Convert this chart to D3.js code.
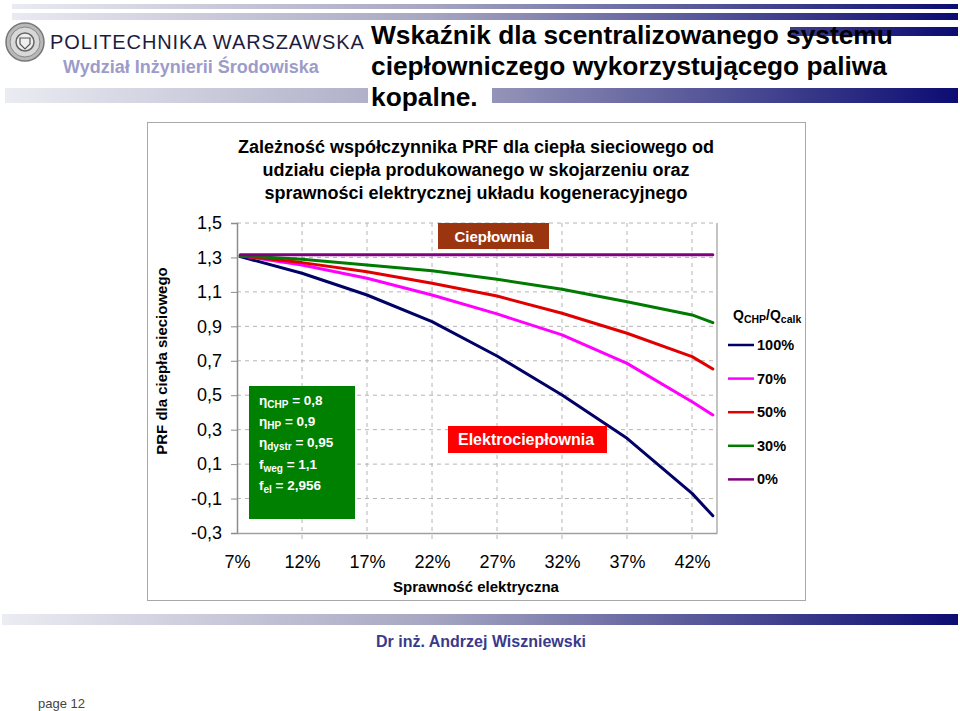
<!DOCTYPE html>
<html>
<head>
<meta charset="utf-8">
<script src="https://cdn.jsdelivr.net/npm/d3@7"></script>
<style>
  html, body { margin: 0; padding: 0; background: #fff; }
  svg { display: block; font-family: "Liberation Sans", Arial, Helvetica, sans-serif; }
</style>
</head>
<body>
<svg id="chart" width="960" height="711"></svg>
<script>
// ---------------- DATA ----------------
const xPct = [7.25, 12, 17, 22, 27, 32, 37, 42, 43.6];
const s100 = [1.305, 1.208, 1.082, 0.927, 0.728, 0.501, 0.250, -0.070, -0.200];
const s70  = [1.31, 1.256, 1.179, 1.082, 0.972, 0.850, 0.685, 0.462, 0.385];
const s50  = [1.31, 1.270, 1.217, 1.150, 1.076, 0.976, 0.860, 0.724, 0.652];
const s30  = [1.31, 1.289, 1.256, 1.223, 1.173, 1.115, 1.043, 0.966, 0.921];
const s0   = [1.315, 1.315, 1.315, 1.315, 1.315, 1.315, 1.315, 1.315, 1.315];
const seriesNames = ["100%", "70%", "50%", "30%", "0%"];
const seriesColors = ["#000066", "#ff00ff", "#e00000", "#007a00", "#800080"];
const xTicks = [7, 12, 17, 22, 27, 32, 37, 42];
const yTicks = [1.5, 1.3, 1.1, 0.9, 0.7, 0.5, 0.3, 0.1, -0.1, -0.3];
const titleLines = [
  "Zależność współczynnika PRF dla ciepła sieciowego od",
  "udziału ciepła produkowanego w skojarzeniu oraz",
  "sprawności elektrycznej układu kogeneracyjnego"
];
const slideTitle = [
  "Wskaźnik dla scentralizowanego systemu",
  "ciepłowniczego wykorzystującego paliwa",
  "kopalne."
];
const params = [
  ["η", "CHP", " = 0,8"],
  ["η", "HP", " = 0,9"],
  ["η", "dystr", " = 0,95"],
  ["f", "weg", " = 1,1"],
  ["f", "el", " = 2,956"]
];
const allSeries = [s100, s70, s50, s30, s0];

// ---------------- DRAW ----------------
const svg = d3.select("#chart");
const defs = svg.append("defs");
const grad = defs.append("linearGradient").attr("id", "hdr")
  .attr("gradientUnits", "userSpaceOnUse")
  .attr("x1", 0).attr("x2", 960).attr("y1", 0).attr("y2", 0);
grad.append("stop").attr("offset", "0%").attr("stop-color", "#ececf3");
grad.append("stop").attr("offset", "45%").attr("stop-color", "#a6a6c2");
grad.append("stop").attr("offset", "100%").attr("stop-color", "#0b0b72");

// header stripes
svg.append("rect").attr("x", 12).attr("y", 4).attr("width", 946).attr("height", 5).attr("fill", "url(#hdr)");
svg.append("rect").attr("x", 12).attr("y", 13).attr("width", 946).attr("height", 7).attr("fill", "url(#hdr)");
svg.append("rect").attr("x", 790).attr("y", 27).attr("width", 168).attr("height", 9).attr("fill", "url(#hdr)");
svg.append("rect").attr("x", 5).attr("y", 88).attr("width", 953).attr("height", 15).attr("fill", "url(#hdr)");
svg.append("rect").attr("x", 368).attr("y", 84).attr("width", 124).attr("height", 24).attr("fill", "#fff");

// logo
const logo = svg.append("g").attr("transform", "translate(25,42)");
logo.append("circle").attr("r", 19).attr("fill", "#b8b8b8").attr("stroke", "#777").attr("stroke-width", 1.5);
logo.append("circle").attr("r", 15).attr("fill", "#d8d8d8").attr("stroke", "#888").attr("stroke-width", 1);
logo.append("circle").attr("r", 9).attr("fill", "#eee").attr("stroke", "#666").attr("stroke-width", 1.5);
logo.append("path").attr("d", "M-5,-4 L5,-4 L5,2 L0,7 L-5,2 Z").attr("fill", "none").attr("stroke", "#555").attr("stroke-width", 1.2);

svg.append("text").attr("x", 50).attr("y", 49).attr("font-size", 20).attr("fill", "#1c1c40")
  .attr("letter-spacing", 0.9).text("POLITECHNIKA WARSZAWSKA");
svg.append("text").attr("x", 63).attr("y", 73).attr("font-size", 18).attr("font-weight", "bold")
  .attr("fill", "#9c9cc9").text("Wydział Inżynierii Środowiska");

slideTitle.forEach((t, i) => {
  svg.append("text").attr("x", 371).attr("y", 44 + i * 31).attr("font-size", 26.3)
    .attr("font-weight", "bold").attr("fill", "#000").text(t);
});

// footer
svg.append("rect").attr("x", 2).attr("y", 614).attr("width", 956).attr("height", 11).attr("fill", "url(#hdr)");
svg.append("text").attr("x", 481).attr("y", 647).attr("text-anchor", "middle").attr("font-size", 16)
  .attr("font-weight", "bold").attr("fill", "#3a3a8c").text("Dr inż. Andrzej Wiszniewski");
svg.append("text").attr("x", 38).attr("y", 708).attr("font-size", 13).attr("fill", "#444").text("page 12");

// chart frame
svg.append("rect").attr("x", 147.5).attr("y", 122.5).attr("width", 658).attr("height", 478)
  .attr("fill", "#fff").attr("stroke", "#a8a8a8").attr("stroke-width", 1);

titleLines.forEach((t, i) => {
  svg.append("text").attr("x", 476).attr("y", 153 + i * 23).attr("text-anchor", "middle")
    .attr("font-size", 18).attr("font-weight", "bold").attr("fill", "#000").text(t);
});

const L = 237, R = 717, T = 223, B = 533;
const x = d3.scaleLinear().domain([7, 43.92]).range([L, R]);
const y = d3.scaleLinear().domain([-0.3, 1.5]).range([B, T]);

// gridlines
const grid = svg.append("g");
grid.selectAll(".hg").data(yTicks.filter(v => v > -0.3)).enter().append("line")
  .attr("x1", L).attr("x2", R).attr("y1", d => y(d)).attr("y2", d => y(d))
  .attr("stroke", "#b4b4b4").attr("stroke-width", 1).attr("stroke-dasharray", "4,4");
grid.selectAll(".vg").data(xTicks.filter(v => v > 7)).enter().append("line")
  .attr("x1", d => x(d)).attr("x2", d => x(d)).attr("y1", T).attr("y2", B + 6)
  .attr("stroke", "#b4b4b4").attr("stroke-width", 1).attr("stroke-dasharray", "4,4");

// plot border right
svg.append("line").attr("x1", R).attr("x2", R).attr("y1", T).attr("y2", B)
  .attr("stroke", "#b0b0b0").attr("stroke-width", 1.5);

// axes
const yAxis = d3.axisLeft(y).tickValues(yTicks).tickSize(6).tickPadding(9)
  .tickFormat(d => d3.format(".1f")(d).replace("−", "-").replace(".", ","));
const gy = svg.append("g").attr("transform", `translate(${L},0)`).call(yAxis);
gy.select(".domain").attr("stroke", "#8c8c8c").attr("stroke-width", 1.5);
gy.selectAll(".tick line").attr("stroke", "#8c8c8c");
gy.selectAll("text").attr("font-size", 18).attr("fill", "#000")
  .attr("font-family", "'Liberation Sans', Arial, sans-serif");

const xAxis = d3.axisBottom(x).tickValues(xTicks).tickSize(0).tickPadding(22)
  .tickFormat(d => d + "%");
const gx = svg.append("g").attr("transform", `translate(0,${B})`).call(xAxis);
gx.select(".domain").attr("stroke", "#a0a0a0").attr("stroke-width", 1.5);
gx.selectAll("text").attr("font-size", 18).attr("fill", "#000")
  .attr("font-family", "'Liberation Sans', Arial, sans-serif");

svg.append("text").attr("x", 476).attr("y", 592).attr("text-anchor", "middle")
  .attr("font-size", 15).attr("font-weight", "bold").text("Sprawność elektryczna");
svg.append("text").attr("transform", "translate(167,361) rotate(-90)").attr("text-anchor", "middle")
  .attr("font-size", 15).attr("font-weight", "bold").text("PRF dla ciepła sieciowego");

// curves
const line = d3.line().x((d, i) => x(xPct[i])).y(d => y(d));
svg.append("g").selectAll("path").data(allSeries).enter().append("path")
  .attr("d", d => line(d)).attr("fill", "none")
  .attr("stroke", (d, i) => seriesColors[i]).attr("stroke-width", 3)
  .attr("stroke-linejoin", "round").attr("stroke-linecap", "round");

// labels boxes
svg.append("rect").attr("x", 438).attr("y", 223).attr("width", 111).attr("height", 26).attr("fill", "#9a3510");
svg.append("text").attr("x", 494).attr("y", 241.5).attr("text-anchor", "middle").attr("font-size", 15)
  .attr("font-weight", "bold").attr("fill", "#fff").text("Ciepłownia");

svg.append("rect").attr("x", 448).attr("y", 426).attr("width", 159).attr("height", 27).attr("fill", "#ff0000");
svg.append("text").attr("x", 458).attr("y", 445).attr("font-size", 16)
  .attr("font-weight", "bold").attr("fill", "#fff").text("Elektrociepłownia");

svg.append("rect").attr("x", 249).attr("y", 386).attr("width", 106).attr("height", 133).attr("fill", "#008000");
params.forEach((p, i) => {
  const t = svg.append("text").attr("x", 259).attr("y", 405 + i * 21.2).attr("font-size", 13.5)
    .attr("font-weight", "bold").attr("fill", "#fff");
  t.append("tspan").text(p[0]);
  t.append("tspan").attr("font-size", 10).attr("dy", 3).text(p[1]);
  t.append("tspan").attr("dy", -3).text(p[2]);
});

// legend
const lt = svg.append("text").attr("x", 733).attr("y", 320).attr("font-size", 14).attr("font-weight", "bold");
lt.append("tspan").text("Q");
lt.append("tspan").attr("font-size", 10.5).attr("dy", 3).text("CHP");
lt.append("tspan").attr("dy", -3).text("/Q");
lt.append("tspan").attr("font-size", 10.5).attr("dy", 3).text("calk");

const leg = svg.append("g").selectAll("g").data(seriesNames).enter().append("g")
  .attr("transform", (d, i) => `translate(728,${345 + i * 33.6})`);
leg.append("line").attr("x1", 0).attr("x2", 26).attr("y1", 0).attr("y2", 0)
  .attr("stroke", (d, i) => seriesColors[i]).attr("stroke-width", 2.5);
leg.append("text").attr("x", 29).attr("y", 5).attr("font-size", 14.5).attr("font-weight", "bold").text(d => d);
</script>
</body>
</html>
